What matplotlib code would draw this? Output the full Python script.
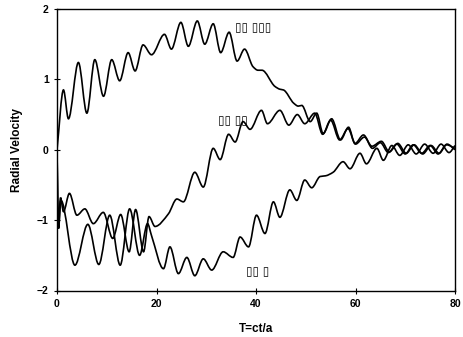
import numpy as np
import matplotlib
matplotlib.use("Agg")
import matplotlib.pyplot as plt
from matplotlib.path import Path
from matplotlib.patches import PathPatch

# ---- data (extrema / key points) ----
a_x = [0, 1.3, 2.3, 4.3, 6.0, 7.6, 9.35, 11.0, 12.6, 14.3, 15.7, 17.3, 19.0, 21.6, 23.0,
       24.9, 26.4, 28.2, 29.7, 31.4, 32.9, 34.6, 36.2, 37.7, 39.4, 40.4, 41.2, 43.8, 44.8,
       45.5, 47.6, 48.5, 49.2, 50.9, 52.2, 53.5, 55.2, 57.0, 58.6, 59.9, 61.6, 63.3, 65.2,
       66.8, 68.5, 70.2, 71.8, 73.5, 75.2, 76.8, 78.4, 80.0]
a_y = [0.0, 0.85, 0.44, 1.24, 0.52, 1.28, 0.76, 1.28, 0.98, 1.38, 1.12, 1.49, 1.35, 1.64, 1.43,
       1.81, 1.47, 1.83, 1.50, 1.79, 1.38, 1.67, 1.26, 1.43, 1.18, 1.13, 1.13, 0.90, 0.86,
       0.85, 0.66, 0.62, 0.63, 0.40, 0.52, 0.23, 0.44, 0.14, 0.32, 0.09, 0.21, 0.05, 0.12,
       -0.03, 0.09, -0.05, 0.07, -0.06, 0.06, -0.05, 0.08, 0.0]

b_x = [0, 0.3, 0.7, 1.3, 2.5, 4.0, 5.6, 7.3, 9.3, 11.2, 12.8, 14.5, 15.8, 17.4, 18.5, 19.7,
       22.4, 24.1, 25.4, 27.7, 29.4, 31.4, 32.8, 34.5, 35.8, 37.4, 38.8, 41.1, 42.3, 44.8,
       46.6, 48.3, 49.8, 51.8, 53.4, 55.0, 56.8, 58.5, 60.0, 61.8, 63.4, 65.0, 66.6, 68.3,
       70.0, 71.6, 73.3, 75.0, 76.6, 78.3, 80.0]
b_y = [0.0, -1.1, -0.68, -0.88, -0.62, -0.93, -0.84, -1.05, -0.89, -1.26, -0.92, -1.45, -0.85,
       -1.45, -0.95, -1.09, -0.91, -0.70, -0.74, -0.32, -0.53, 0.02, -0.14, 0.22, 0.11, 0.40,
       0.29, 0.56, 0.37, 0.56, 0.35, 0.50, 0.37, 0.52, 0.22, 0.42, 0.14, 0.30, 0.08, 0.18,
       0.02, 0.10, -0.04, 0.08, -0.06, 0.07, -0.05, 0.06, -0.06, 0.07, 0.02]

c_x = [0, 0.3, 0.8, 3.6, 6.2, 8.4, 10.6, 12.7, 14.6, 16.6, 18.2, 19.0, 21.4, 22.7, 24.4,
       26.1, 27.7, 29.4, 31.1, 33.4, 35.4, 36.8, 38.5, 40.1, 41.8, 43.5, 44.8, 46.8, 48.2,
       49.8, 51.2, 52.9, 54.0, 55.5, 57.5, 58.9, 60.9, 62.2, 64.3, 65.6, 67.3, 68.9, 70.6,
       72.2, 73.9, 75.6, 77.2, 78.8, 80.0]
c_y = [0.0, -1.12, -0.72, -1.64, -1.06, -1.63, -0.93, -1.64, -0.84, -1.50, -1.05, -1.22, -1.69,
       -1.38, -1.76, -1.53, -1.79, -1.55, -1.71, -1.45, -1.53, -1.24, -1.38, -0.93, -1.19,
       -0.74, -0.96, -0.57, -0.72, -0.43, -0.54, -0.38, -0.37, -0.32, -0.17, -0.27, -0.05,
       -0.20, 0.02, -0.15, 0.06, -0.08, 0.07, -0.06, 0.08, -0.05, 0.08, -0.04, 0.06]

labels = ["\u25af\u25af \u25af\u25af\u25af", "\u25af\u25af \u25af\u25af", "\u25af\u25af \u25af"]
label_pos = [(35.8, 1.74), (32.4, 0.41), (37.9, -1.73)]
x_ticks = [0, 20, 40, 60, 80]
y_ticks = [-2, -1, 0, 1, 2]


def pchip_slopes(x, y):
    x = np.asarray(x, float); y = np.asarray(y, float)
    h = np.diff(x); d = np.diff(y) / h
    m = np.zeros_like(y)
    for k in range(1, len(x) - 1):
        if d[k - 1] * d[k] <= 0:
            m[k] = 0.0
        else:
            w1 = 2 * h[k] + h[k - 1]; w2 = h[k] + 2 * h[k - 1]
            m[k] = (w1 + w2) / (w1 / d[k - 1] + w2 / d[k])
    m[0] = d[0]; m[-1] = d[-1]
    return m


def smooth_path(x, y):
    x = np.asarray(x, float); y = np.asarray(y, float)
    m = pchip_slopes(x, y)
    verts = [(x[0], y[0])]; codes = [Path.MOVETO]
    for k in range(len(x) - 1):
        h = x[k + 1] - x[k]
        verts += [(x[k] + h / 3, y[k] + m[k] * h / 3),
                  (x[k + 1] - h / 3, y[k + 1] - m[k + 1] * h / 3),
                  (x[k + 1], y[k + 1])]
        codes += [Path.CURVE4] * 3
    return Path(verts, codes)


plt.rcParams['font.family'] = ['Liberation Sans', 'DejaVu Sans']
fig = plt.figure(figsize=(4.63, 3.37), dpi=100)
ax = fig.add_axes([57 / 463, 1 - 290.5 / 337, (455 - 57) / 463, (290.5 - 9) / 337])

for xs, ys in [(a_x, a_y), (b_x, b_y), (c_x, c_y)]:
    ax.add_patch(PathPatch(smooth_path(xs, ys), facecolor='none', edgecolor='black', lw=1.2))

for t, (lx, ly) in zip(labels, label_pos):
    ax.text(lx, ly, t, fontsize=8.5, family=['DejaVu Sans'], va='center', ha='left')

ax.set_xlim(0, 80)
ax.set_ylim(-2, 2)
ax.set_xticks(x_ticks)
ax.set_yticks(y_ticks)
ax.tick_params(direction='inout', length=4, width=0.8, labelsize=7.5, pad=4)
for lab in ax.get_xticklabels() + ax.get_yticklabels():
    lab.set_fontweight('bold')
for s in ax.spines.values():
    s.set_linewidth(1.0)
ax.set_xlabel("T=ct/a", fontsize=8.5, fontweight='bold', labelpad=10)
ax.set_ylabel("Radial Velocity", fontsize=8.5, fontweight='bold', labelpad=10)

fig.savefig("out.png", dpi=100)
